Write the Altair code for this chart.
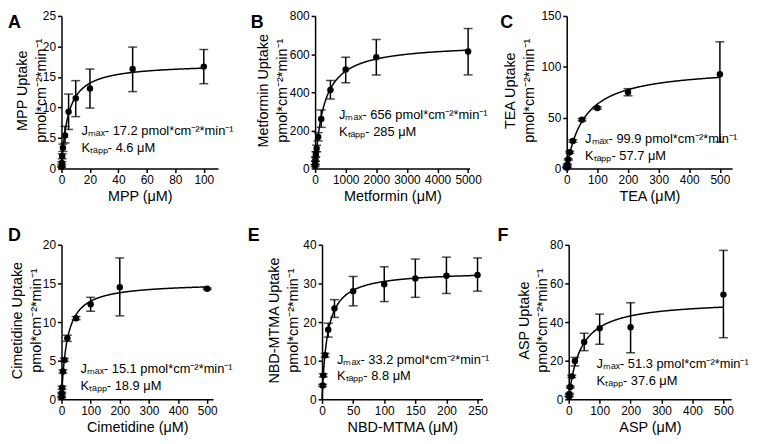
import altair as alt
import pandas as pd

FONT = "Liberation Sans"

# ---------------- data ----------------
# A: MPP
mpp_conc = [0.1, 0.25, 0.5, 1, 2.5, 5, 10, 20, 50, 100]
mpp_mean = [0.3, 0.9, 2.0, 3.4, 5.4, 9.3, 11.5, 13.1, 16.3, 16.7]
mpp_lo = [0.2, 0.7, 1.6, 2.8, 4.2, 6.4, 8.5, 9.9, 12.6, 13.9]
mpp_hi = [0.4, 1.1, 2.4, 4.0, 6.9, 12.2, 14.4, 16.3, 19.9, 19.5]
mpp_fit = [17.2, 4.6]

# B: Metformin
met_conc = [1, 5, 10, 25, 50, 100, 200, 500, 1000, 2000, 5000]
met_mean = [15, 30, 48, 75, 105, 165, 260, 412, 519, 583, 614]
met_lo = [10, 22, 38, 62, 88, 145, 216, 365, 450, 490, 491]
met_hi = [20, 38, 58, 88, 122, 188, 307, 462, 584, 676, 734]
met_fit = [656, 285]

# C: TEA
tea_conc = [0.5, 1, 2, 5, 10, 20, 50, 100, 200, 500]
tea_mean = [0.8, 1.8, 4.0, 9.0, 16.0, 27.0, 48.0, 59.5, 75.0, 92.6]
tea_lo = [0.6, 1.5, 3.5, 8.3, 15.0, 25.8, 46.8, 58.3, 71.5, 26.0]
tea_hi = [1.0, 2.1, 4.5, 9.7, 17.0, 28.2, 49.2, 60.7, 78.5, 124.6]
tea_fit = [99.9, 57.7]

# D: Cimetidine
cim_conc = [0.5, 1, 2, 5, 10, 20, 50, 100, 200, 500]
cim_mean = [0.3, 0.8, 1.5, 3.6, 5.1, 7.9, 10.5, 12.3, 14.5, 14.3]
cim_lo = [0.2, 0.7, 1.3, 3.4, 4.9, 7.5, 10.3, 11.4, 10.8, 14.2]
cim_hi = [0.4, 0.9, 1.7, 3.8, 5.3, 8.3, 10.7, 13.2, 18.3, 14.4]
cim_fit = [15.1, 18.9]

# E: NBD-MTMA
nbd_conc = [1, 2, 5, 10, 20, 50, 100, 150, 200, 250]
nbd_mean = [3.6, 6.2, 11.4, 18.0, 23.5, 28.0, 29.8, 31.3, 32.0, 32.2]
nbd_lo = [3.3, 5.8, 10.9, 16.1, 21.2, 24.2, 25.3, 26.4, 27.4, 28.0]
nbd_hi = [3.9, 6.6, 11.9, 19.7, 25.8, 31.8, 34.3, 36.3, 36.8, 36.6]
nbd_fit = [33.2, 8.8]

# F: ASP
asp_conc = [1, 2, 5, 10, 20, 50, 100, 200, 500]
asp_mean = [1.4, 2.8, 6.4, 11.9, 19.8, 29.7, 36.8, 37.3, 54.2]
asp_lo = [1.2, 2.5, 5.9, 11.3, 17.3, 25.2, 28.5, 24.1, 31.9]
asp_hi = [1.6, 3.1, 6.9, 12.5, 21.7, 34.2, 44.1, 50.0, 77.1]
asp_fit = [51.3, 37.6]

UNIT = "pmol*cm\u207b\u00b2*min\u207b\u00b9"
SUB_MAX = "\u2098\u2090\u2093"
SUB_TAPP = "\u209c\u2090\u209a\u209a"


def panel(letter, lpos, name, conc, mean, lo, hi, fit, jtxt, ktxt,
          xdom, xticks, ydom, yticks, w, h, title_x, ann):
    df = pd.DataFrame({"x": conc, "y": mean, "lo": lo, "hi": hi})
    xs = alt.Scale(domain=xdom, nice=False, zero=True)
    ys = alt.Scale(domain=ydom, nice=False, zero=True)
    xaxis = alt.Axis(values=xticks, format="d", title=f"{name} (\u03bcM)",
                     titlePadding=4, titleFontWeight="normal")
    yaxis = alt.Axis(values=yticks, format="d",
                     title=[f"{name} Uptake", UNIT],
                     titleX=title_x - 19, titleY=h / 2 - 2, titleAngle=-90,
                     titleAlign="center", titleBaseline="bottom",
                     titleLineHeight=19, titleFontWeight="normal")

    def X(f):
        return alt.X(f, type="quantitative", scale=xs, axis=xaxis)

    def Y(f):
        return alt.Y(f, type="quantitative", scale=ys, axis=yaxis)

    base = alt.Chart(df)
    points = base.mark_circle(size=42, color="black", opacity=1).encode(
        x=X("x"), y=Y("y"))
    rules = base.mark_rule(color="black", strokeWidth=1.5).encode(
        x=X("x"), y=Y("lo"), y2="hi:Q")
    cap_lo = base.mark_tick(orient="horizontal", size=9, thickness=1.5,
                            color="black").encode(x=X("x"), y=Y("lo"))
    cap_hi = base.mark_tick(orient="horizontal", size=9, thickness=1.5,
                            color="black").encode(x=X("x"), y=Y("hi"))
    xend = max(conc)
    curve = alt.Chart(alt.sequence(0, 1.0001, 0.0025, as_="t")).transform_calculate(
        x=f"{xend}*datum.t*datum.t"
    ).transform_calculate(
        y=f"{fit[0]}*datum.x/({fit[1]}+datum.x)"
    ).mark_line(color="black", strokeWidth=1.5).encode(x=X("x"), y=Y("y"))
    ann_df = pd.DataFrame({
        "x": [ann[0], ann[0]],
        "y": [ann[1], ann[2]],
        "t": [f"J{SUB_MAX}- {jtxt} {UNIT}", f"K{SUB_TAPP}- {ktxt} \u03bcM"],
    })
    annot = alt.Chart(ann_df).mark_text(
        align="left", baseline="middle", font=FONT, fontSize=13, color="black"
    ).encode(x=X("x"), y=Y("y"), text="t:N")
    let = alt.Chart(pd.DataFrame({"t": [letter]})).mark_text(
        align="left", baseline="top", font=FONT, fontSize=18,
        fontWeight="bold", color="black"
    ).encode(x=alt.value(lpos[0]), y=alt.value(lpos[1]), text="t:N")

    return alt.layer(curve, rules, cap_lo, cap_hi, points, annot, let).properties(
        width=w, height=h)


HT = 154
HB = 156

pA = panel("A", (-54, -2), "MPP", mpp_conc, mpp_mean, mpp_lo, mpp_hi, mpp_fit,
           "17.2", "4.6", [0, 110], [0, 20, 40, 60, 80, 100], [0, 25],
           [0, 5, 10, 15, 20, 25], 158, HT, -13, (14, 6.1, 3.4))
pB = panel("B", (-65, -2), "Metformin", met_conc, met_mean, met_lo, met_hi, met_fit,
           "656", "285", [0, 5050], [0, 1000, 2000, 3000, 4000, 5000], [0, 800],
           [0, 200, 400, 600, 800], 156, HT, -26, (780, 280, 190))
pC = panel("C", (-67, -2), "TEA", tea_conc, tea_mean, tea_lo, tea_hi, tea_fit,
           "99.9", "57.7", [0, 540], [0, 100, 200, 300, 400, 500], [0, 150],
           [0, 50, 100, 150], 167, HT, -31, (60, 28.8, 12.5))
pD = panel("D", (-54, -18), "Cimetidine", cim_conc, cim_mean, cim_lo, cim_hi, cim_fit,
           "15.1", "18.9", [0, 520], [0, 100, 200, 300, 400, 500], [0, 20],
           [0, 5, 10, 15, 20], 153, HB, -18, (65, 3.9, 1.7))
pE = panel("E", (-75, -18), "NBD-MTMA", nbd_conc, nbd_mean, nbd_lo, nbd_hi, nbd_fit,
           "33.2", "8.8", [0, 258], [0, 50, 100, 150, 200, 250], [0, 40],
           [0, 10, 20, 30, 40], 162, HB, -22, (24, 10.2, 5.9))
pF = panel("F", (-72, -18), "ASP", asp_conc, asp_mean, asp_lo, asp_hi, asp_fit,
           "51.3", "37.6", [0, 525], [0, 100, 200, 300, 400, 500], [0, 80],
           [0, 20, 40, 60, 80], 164, HB, -19, (90, 18.4, 9.7))

row1 = alt.hconcat(pA, pB, pC, spacing=98, bounds="flush")
row2 = alt.hconcat(pD, alt.hconcat(pE, pF, spacing=87, bounds="flush"),
                   spacing=110, bounds="flush")

chart = alt.vconcat(row1, row2, spacing=24).properties(
    padding=0
).configure_view(stroke=None).configure_axis(
    domainColor="black", domainWidth=1.5, tickColor="black", tickWidth=1.5,
    tickSize=4, labelFont=FONT, labelFontSize=12, labelColor="black",
    labelPadding=2, titleFont=FONT, titleFontSize=14.5, titleFontWeight="normal",
    titleColor="black", grid=False, labelFlush=False, labelOverlap=False,
)

chart.save("out.html", embed_options={"renderer": "svg", "actions": False})
